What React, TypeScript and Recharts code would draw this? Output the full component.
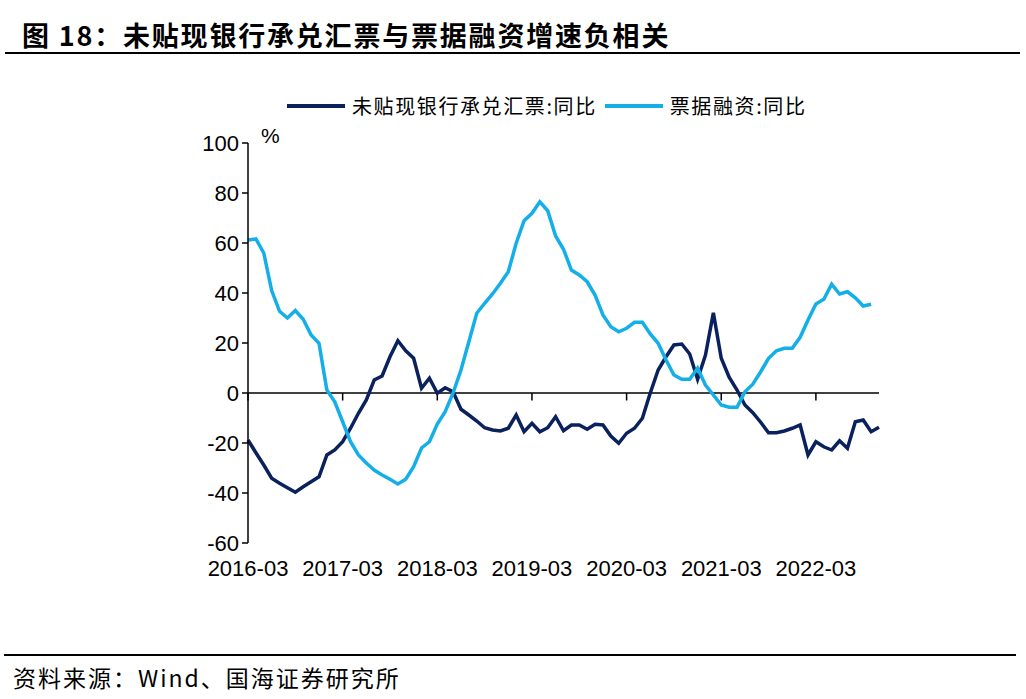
import React from 'react';
import { LineChart, Line, XAxis, YAxis, ReferenceLine } from 'recharts';

// 2016-03 .. 2022-11, monthly
const months: string[] = [];
for (let i = 0; i < 81; i++) {
    const m = 2 + i;
    const y = 2016 + Math.floor(m / 12);
    const mm = (m % 12) + 1;
    months.push(`${y}-${mm < 10 ? '0' + mm : mm}`);
}

// 未贴现银行承兑汇票:同比 (%)
const undiscounted = [
    -18.8, -23.9, -28.8, -34.1, -36.1, -37.9, -39.7, -37.5, -35.5, -33.5,
    -24.8, -22.8, -19.5, -14.1, -8.1, -2.8, 5.2, 6.8, 14.5, 20.9,
    16.9, 13.9, 1.9, 5.9, -0.1, 2.1, 0.5, -6.5, -8.8, -11.2,
    -13.9, -14.8, -15.2, -14.1, -8.8, -15.5, -12.1, -15.5, -13.9, -9.5,
    -15.1, -12.8, -12.8, -14.5, -12.5, -12.8, -17.2, -20.1, -16.1, -14.1,
    -10.1, 0, 9.2, 14.5, 19.2, 19.6, 15.6, 5.5, 15.2, 32.1,
    13.9, 6.3, 1.2, -4.8, -7.9, -11.7, -15.9, -15.9, -15.2, -14.1,
    -12.8, -24.8, -19.5, -21.5, -22.8, -19.1, -22.1, -11.5, -10.8, -15.5,
    -13.7,
];

// 票据融资:同比 (%)
const billFinancing = [
    61.2, 61.6, 56, 41, 32.7, 30, 33, 29.5, 23.2, 19.9,
    1.2, -3.5, -11.5, -19.5, -24.8, -28, -30.8, -32.8, -34.5, -36.4,
    -34.5, -29.5, -22, -19.5, -12.4, -7.5, 0, 9.2, 20.5, 31.9,
    35.9, 39.6, 43.9, 48.5, 59.9, 68.9, 71.9, 76.5, 72.9, 62.8,
    57.5, 49.2, 47.2, 44.5, 39.2, 31.2, 26.5, 24.5, 25.9, 28.3,
    28.3, 23.6, 19.9, 13.2, 7.2, 5.5, 5.5, 9.9, 3.2, -0.8,
    -4.8, -5.7, -5.7, 0.5, 3.5, 8.5, 13.9, 16.9, 17.9, 17.9,
    22.3, 29.2, 35.6, 37.5, 43.5, 39.6, 40.5, 38.1, 34.8, 35.5,
];

const xTicks = ['2016-03', '2017-03', '2018-03', '2019-03', '2020-03', '2021-03', '2022-03'];
const yTicks = [-60, -40, -20, 0, 20, 40, 60, 80, 100];

const DARK = '#0A215E';
const LIGHT = '#14AEE8';
const CJK = '"Noto Sans CJK SC", sans-serif';
const ARIAL = '"Liberation Sans", Arial, sans-serif';

const data = months.map((month, i) => ({
    month,
    undiscounted: undiscounted[i],
    billFinancing: i < billFinancing.length ? billFinancing[i] : null,
}));

const legendItems = [
    { name: '未贴现银行承兑汇票:同比', color: DARK },
    { name: '票据融资:同比', color: LIGHT },
];

export default function App() {
    return (
        <div style={{ position: 'absolute', left: 0, top: 0, width: 1026, height: 699, background: '#fff' }}>
            <div
                style={{
                    position: 'absolute',
                    left: 22,
                    top: 17,
                    fontFamily: CJK,
                    fontWeight: 700,
                    fontSize: 27,
                    letterSpacing: 1.8,
                    lineHeight: '36px',
                    color: '#000',
                    whiteSpace: 'nowrap',
                }}
            >
                图 18：未贴现银行承兑汇票与票据融资增速负相关
            </div>
            <div style={{ position: 'absolute', left: 5, top: 52, width: 1015, height: 2, background: '#000' }} />

            {/* legend */}
            <div
                style={{
                    position: 'absolute',
                    left: 287,
                    top: 91,
                    display: 'flex',
                    alignItems: 'center',
                    fontFamily: CJK,
                    fontSize: 20,
                    color: '#000',
                    whiteSpace: 'nowrap',
                }}
            >
                {legendItems.map((item) => (
                    <div key={item.name} style={{ display: 'flex', alignItems: 'center', marginRight: 8 }}>
                        <svg width={58} height={6} style={{ marginRight: 7 }}>
                            <line x1={0} y1={3} x2={58} y2={3} stroke={item.color} strokeWidth={4} />
                        </svg>
                        <span style={{ letterSpacing: 1.6 }}>{item.name}</span>
                    </div>
                ))}
            </div>

            <div style={{ position: 'absolute', left: 261, top: 124, fontFamily: ARIAL, fontSize: 21, color: '#000' }}>%</div>

            <div style={{ position: 'absolute', left: 0, top: 0 }}>
                <LineChart
                    width={1026}
                    height={699}
                    data={data}
                    margin={{ top: 143, right: 147, bottom: 126, left: 188 }}
                >
                    <XAxis
                        dataKey="month"
                        ticks={xTicks}
                        interval={0}
                        axisLine={false}
                        tickLine={false}
                        tickSize={0}
                        tickMargin={17}
                        height={30}
                        tick={{ fontSize: 22, fill: '#000', fontFamily: ARIAL }}
                    />
                    <YAxis
                        domain={[-60, 100]}
                        ticks={yTicks}
                        interval={0}
                        width={60}
                        axisLine={{ stroke: '#000', strokeWidth: 1.5 }}
                        tickLine={{ stroke: '#000', strokeWidth: 1.5 }}
                        tickSize={6}
                        tickMargin={3}
                        tick={{ fontSize: 22, fill: '#000', fontFamily: ARIAL }}
                    />
                    <ReferenceLine y={0} stroke="#000" strokeWidth={1.5} />
                    {xTicks.map((t) => (
                        <ReferenceLine
                            key={t}
                            segment={[{ x: t, y: 0 }, { x: t, y: -3 }]}
                            stroke="#000"
                            strokeWidth={1.5}
                        />
                    ))}
                    <Line
                        type="linear"
                        dataKey="undiscounted"
                        name="未贴现银行承兑汇票:同比"
                        stroke={DARK}
                        strokeWidth={3.5}
                        dot={false}
                        isAnimationActive={false}
                    />
                    <Line
                        type="linear"
                        dataKey="billFinancing"
                        name="票据融资:同比"
                        stroke={LIGHT}
                        strokeWidth={3.5}
                        dot={false}
                        connectNulls={false}
                        isAnimationActive={false}
                    />
                </LineChart>
            </div>

            <div style={{ position: 'absolute', left: 4, top: 654, width: 1012, height: 2, background: '#000' }} />
            <div
                style={{
                    position: 'absolute',
                    left: 13,
                    top: 662,
                    fontFamily: CJK,
                    fontSize: 23,
                    letterSpacing: 2,
                    lineHeight: '30px',
                    color: '#000',
                    whiteSpace: 'nowrap',
                }}
            >
                资料来源：Wind、国海证券研究所
            </div>
        </div>
    );
}
